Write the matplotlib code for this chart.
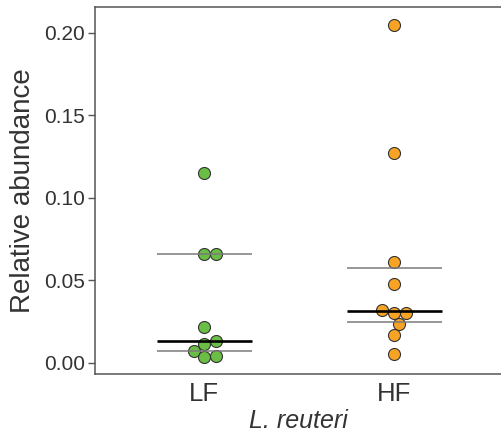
import numpy as np
import matplotlib
matplotlib.use("Agg")
import matplotlib.pyplot as plt

plt.rcParams['font.family'] = ['Liberation Sans', 'DejaVu Sans']

# ---- data ----
groups = ["LF", "HF"]
lf_values = [0.115, 0.0657, 0.0657, 0.022, 0.0133, 0.0113, 0.0074, 0.0044, 0.0036]
hf_values = [0.2048, 0.127, 0.0609, 0.048, 0.032, 0.0304, 0.030, 0.0236, 0.0171, 0.0053]
medians = [0.0133, 0.0316]
q1 = [0.0074, 0.0250]
q3 = [0.0657, 0.0576]
colors = ["#6BBE45", "#F7A325"]

fig = plt.figure(figsize=(5.02, 4.38), dpi=100)
ax = fig.add_axes([95/502, 64/438, 1 - 95/502, (374-7)/438])
ax.set_xlim(-0.574, 1.568)
ax.set_ylim(-0.0067, 0.2155)

diam_px = 12.0
marker_s = (diam_px * 72 / 100) ** 2


def swarm_offsets(values, xc):
    """Place points (ascending) as close to centre as possible without overlap (pixel space)."""
    trans = ax.transData
    order = np.argsort(values)
    placed = []
    offs = np.zeros(len(values))
    for i in order:
        y = trans.transform((xc, values[i]))[1]
        cands = [0.0]
        for (px, py) in placed:
            dy = abs(py - y)
            if dy < diam_px:
                dx = np.sqrt(diam_px**2 - dy**2)
                cands += [px + dx, px - dx]
        cands = sorted(cands, key=lambda c: (round(abs(c), 6), -c))
        for c in cands:
            ok = all((c - px)**2 + (y - py)**2 >= diam_px**2 - 1e-6 for (px, py) in placed)
            if ok:
                break
        placed.append((c, y))
        offs[i] = c
    x0 = trans.transform((xc, 0))[0]
    inv = ax.transData.inverted()
    return np.array([inv.transform((x0 + o, 0))[0] for o in offs])


for k, vals in enumerate([lf_values, hf_values]):
    xs = swarm_offsets(vals, k)
    ax.scatter(xs, vals, s=marker_s, color=colors[k], edgecolor="#333333",
               linewidth=0.8, zorder=2)
    hw = 0.25
    ax.hlines([q1[k], q3[k]], k - hw, k + hw, color="#7a7a7a", lw=1.1, zorder=3)
    ax.hlines(medians[k], k - hw, k + hw, color="black", lw=1.9, zorder=4)

ax.set_xticks([0, 1])
ax.set_xticklabels(groups, fontsize=18.5)
ax.set_yticks([0.0, 0.05, 0.10, 0.15, 0.20])
ax.set_yticklabels(["0.00", "0.05", "0.10", "0.15", "0.20"], fontsize=15, color="#333333")
ax.tick_params(axis='x', length=0, pad=6, colors="#333333")
ax.tick_params(axis='y', length=5, width=1.0, color="#555555", pad=2)

ax.set_ylabel("Relative abundance", fontsize=20, color="#333333", labelpad=6)
ax.set_xlabel("L. reuteri", fontsize=18, style="italic", color="#333333", labelpad=2)

for sp in ["left", "bottom", "top"]:
    ax.spines[sp].set_color("#555555")
    ax.spines[sp].set_linewidth(1.1)
ax.spines["right"].set_visible(False)

fig.savefig("out.png", dpi=100)
